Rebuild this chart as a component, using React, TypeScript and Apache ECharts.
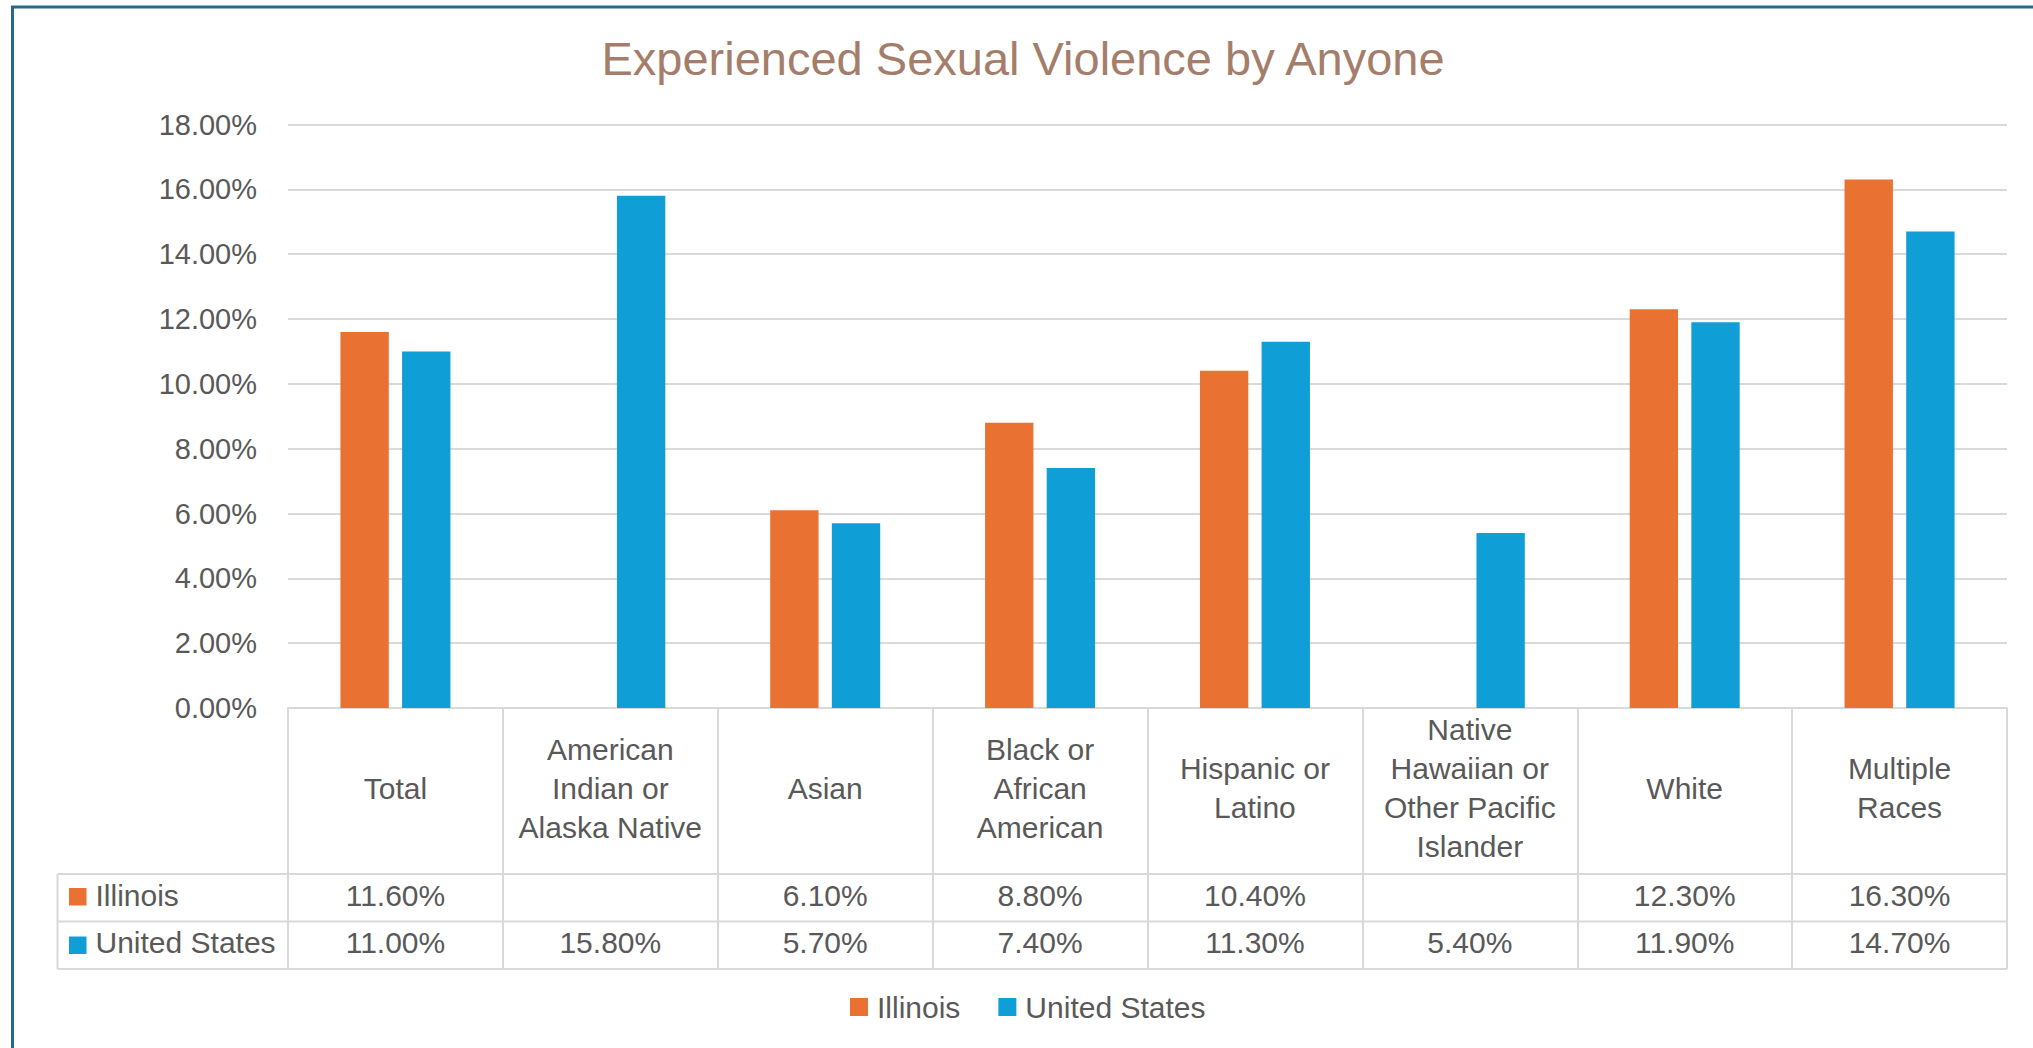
import React, { useEffect, useRef } from "react";
import * as echarts from "echarts";

const categories = [
  "Total",
  "American\nIndian or\nAlaska Native",
  "Asian",
  "Black or\nAfrican\nAmerican",
  "Hispanic or\nLatino",
  "Native\nHawaiian or\nOther Pacific\nIslander",
  "White",
  "Multiple\nRaces",
];
const seriesNames = ["Illinois", "United States"];
const illinois: (number | null)[] = [11.6, null, 6.1, 8.8, 10.4, null, 12.3, 16.3];
const unitedStates: (number | null)[] = [11.0, 15.8, 5.7, 7.4, 11.3, 5.4, 11.9, 14.7];
const yMin = 0;
const yMax = 18;
const yInterval = 2;

const ORANGE = "#E97132";
const BLUE = "#0F9ED5";
const TEXT = "#595959";
const GRID = "#D9D9D9";
const FONT = "'Liberation Sans', Arial, sans-serif";

const fmt = (v: number | null) => (v == null ? "" : v.toFixed(2) + "%");

export default function App() {
  const ref = useRef<HTMLDivElement>(null);
  useEffect(() => {
    if (!ref.current) return;
    const chart = echarts.init(ref.current, null, { renderer: "svg" });
    const plotLeft = 288;
    const plotRight = 2007;
    const axisY = 708;
    const tableLeft = 57.5;
    const rowLines = [874, 921.5, 969];
    const option: any = {
      animation: false,
      backgroundColor: "#ffffff",
      textStyle: { fontFamily: FONT },
      title: {
        text: "Experienced Sexual Violence by Anyone",
        left: 1018,
        textAlign: "center",
        top: 30,
        textStyle: { color: "#A47E6B", fontSize: 47, fontWeight: "normal", fontFamily: FONT },
      },
      grid: { left: plotLeft, right: 2033 - plotRight, top: 124.5, bottom: 1048 - axisY, containLabel: false },
      legend: {
        data: seriesNames,
        left: 845,
        top: 987,
        icon: "rect",
        itemWidth: 18,
        itemHeight: 18,
        itemGap: 38,
        textStyle: { color: TEXT, fontSize: 30, fontFamily: FONT, padding: [0, 0, 0, 4] },
      },
      xAxis: [
        {
          type: "category",
          data: categories,
          axisLine: { show: true, lineStyle: { color: GRID, width: 2 } },
          axisTick: { show: true, length: rowLines[2] - axisY, lineStyle: { color: GRID, width: 2 } },
          axisLabel: {
            interval: 0,
            margin: 80,
            verticalAlign: "middle",
            color: TEXT,
            fontSize: 30,
            lineHeight: 39,
            fontFamily: FONT,
          },
        },
        {
          type: "category",
          data: illinois.map(fmt),
          position: "bottom",
          axisLine: { show: false },
          axisTick: { show: false },
          axisLabel: { interval: 0, margin: 187, verticalAlign: "middle", color: TEXT, fontSize: 30, fontFamily: FONT },
        },
        {
          type: "category",
          data: unitedStates.map(fmt),
          position: "bottom",
          axisLine: { show: false },
          axisTick: { show: false },
          axisLabel: { interval: 0, margin: 234, verticalAlign: "middle", color: TEXT, fontSize: 30, fontFamily: FONT },
        },
      ],
      yAxis: {
        type: "value",
        min: yMin,
        max: yMax,
        interval: yInterval,
        axisLine: { show: false },
        axisTick: { show: false },
        splitLine: { lineStyle: { color: GRID, width: 2 } },
        axisLabel: {
          margin: 31,
          color: TEXT,
          fontSize: 29,
          fontFamily: FONT,
          formatter: (v: number) => v.toFixed(2) + "%",
        },
      },
      series: [
        {
          name: seriesNames[0],
          type: "bar",
          data: illinois,
          barWidth: "22.5%",
          barGap: "27.5%",
          itemStyle: { color: ORANGE },
        },
        {
          name: seriesNames[1],
          type: "bar",
          data: unitedStates,
          barWidth: "22.5%",
          barGap: "27.5%",
          itemStyle: { color: BLUE },
        },
      ],
      graphic: [
        {
          type: "rect",
          shape: { x: 12.5, y: 7, width: 2200, height: 1200 },
          style: { fill: "none", stroke: "#26698F", lineWidth: 3 },
          silent: true,
        },
        ...rowLines.map((y) => ({
          type: "line",
          shape: { x1: tableLeft, y1: y, x2: plotRight, y2: y },
          style: { stroke: GRID, lineWidth: 2 },
          silent: true,
        })),
        {
          type: "line",
          shape: { x1: tableLeft, y1: rowLines[0], x2: tableLeft, y2: rowLines[2] },
          style: { stroke: GRID, lineWidth: 2 },
          silent: true,
        },
        {
          type: "rect",
          shape: { x: 69, y: 888, width: 17.5, height: 17.5 },
          style: { fill: ORANGE },
        },
        {
          type: "text",
          x: 95.5,
          y: 895,
          style: { text: seriesNames[0], fill: TEXT, font: `30px ${FONT}`, textVerticalAlign: "middle", verticalAlign: "middle" },
        },
        {
          type: "rect",
          shape: { x: 69, y: 936.5, width: 17.5, height: 17.5 },
          style: { fill: BLUE },
        },
        {
          type: "text",
          x: 95.5,
          y: 942.5,
          style: { text: seriesNames[1], fill: TEXT, font: `30px ${FONT}`, textVerticalAlign: "middle", verticalAlign: "middle" },
        },
      ],
    };
    chart.setOption(option);
    return () => chart.dispose();
  }, []);
  return (
    <div
      ref={ref}
      style={{ position: "fixed", left: 0, top: 0, width: 2033, height: 1048, background: "#fff" }}
    />
  );
}
